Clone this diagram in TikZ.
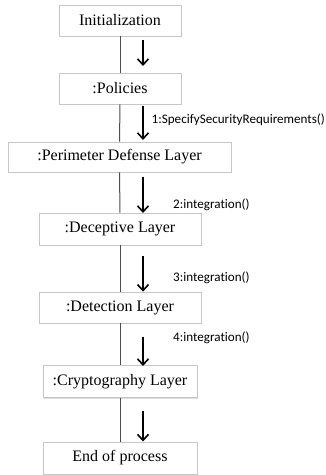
\documentclass[tikz,border=0pt]{standalone}
\usepackage{fontspec}
\setmainfont{Liberation Serif}
\newfontfamily\labfont[Ligatures={NoCommon,NoContextual}]{Carlito}
\usetikzlibrary{arrows.meta,shadows}
\begin{document}
\begin{tikzpicture}[x=1pt,y=1pt,
  box/.style={draw=gray!45,line width=0.8pt,fill=white,inner sep=0pt,
    font=\fontsize{16}{18}\selectfont,
    drop shadow={shadow xshift=1.2pt,shadow yshift=-1.2pt,fill=gray!40,opacity=0.7}},
  life/.style={draw=black!70,line width=1pt},
  arr/.style={line width=1.6pt,-{Straight Barb[length=6pt,width=11pt,line width=1.6pt]}},
  lab/.style={font=\labfont\fontsize{13.1}{15}\selectfont,anchor=west,inner sep=0pt}]
\useasboundingbox (0,0) rectangle (326,475);
\node[box,minimum width=122pt,minimum height=31pt] (b1) at (120,454.5) {Initialization};
\node[box,minimum width=122pt,minimum height=31pt] (b2) at (120,386.5) {:Policies};
\node[box,minimum width=223pt,minimum height=30pt] (b3) at (119.5,318) {:Perimeter Defense Layer};
\node[box,minimum width=162pt,minimum height=32pt] (b4) at (120,246) {:Deceptive Layer};
\node[box,minimum width=162pt,minimum height=31pt] (b5) at (120,167.5) {:Detection Layer};
\node[box,minimum width=154pt,minimum height=32pt] (b6) at (120,93.3) {:Cryptography Layer};
\node[box,minimum width=154pt,minimum height=32pt] (b7) at (120,17) {End of process};
% lifeline segments
\draw[life] (b1.south) -- (b2.north);
\draw[life] (b2.south) -- (b3.north);
\draw[life] (b3.south) -- (b4.north);
\draw[life] (b4.south) -- (b5.north);
\draw[life] (b5.south) -- (b6.north);
\draw[life] (b6.south) -- (b7.north);
% arrow coordinates
\coordinate (a1s) at (143,435); \coordinate (a1e) at (143,409);
\coordinate (a2s) at (143,369); \coordinate (a2e) at (143,335);
\coordinate (a3s) at (143,298.3); \coordinate (a3e) at (143,262);
\coordinate (a4s) at (143,219); \coordinate (a4e) at (143,183.3);
\coordinate (a5s) at (143,138.3); \coordinate (a5e) at (143,109);
\coordinate (a6s) at (143,64); \coordinate (a6e) at (143,33.5);
\draw[arr] (a1s) -- (a1e);
\draw[arr] (a2s) -- (a2e);
\draw[arr] (a3s) -- (a3e);
\draw[arr] (a4s) -- (a4e);
\draw[arr] (a5s) -- (a5e);
\draw[arr] (a6s) -- (a6e);
\node[lab] (l1) at (151.5,355) {1:SpecifySecurityRequirements()};
\node[lab] (l2) at (173,270) {2:integration()};
\node[lab] (l3) at (173,197.3) {3:integration()};
\node[lab] (l4) at (173,136.7) {4:integration()};
\end{tikzpicture}
\end{document}
